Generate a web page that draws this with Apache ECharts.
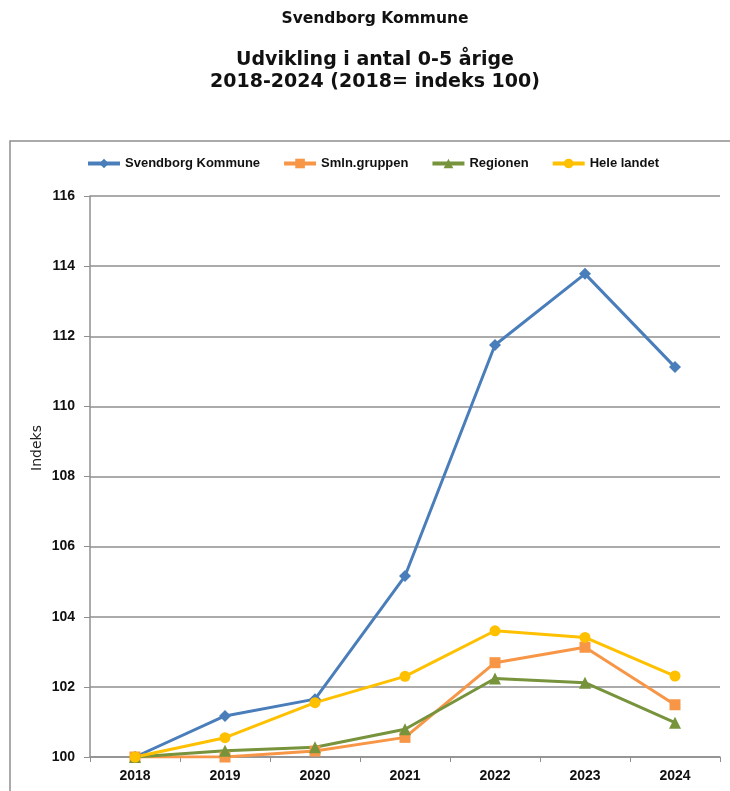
<!DOCTYPE html>
<html>
<head>
<meta charset="utf-8">
<script src="https://cdn.jsdelivr.net/npm/echarts@6/dist/echarts.min.js"></script>
<style>
  html, body { margin: 0; padding: 0; background: #fff; }
  #chart { width: 730px; height: 791px; }
</style>
</head>
<body>
<div id="chart"></div>
<script>
// data
var years = ['2018', '2019', '2020', '2021', '2022', '2023', '2024'];
var svendborg = [100, 101.17, 101.65, 105.16, 111.75, 113.78, 111.12];
var smlnGruppen = [100, 100.0, 100.17, 100.56, 102.69, 103.13, 101.49];
var regionen = [100, 100.18, 100.28, 100.79, 102.24, 102.12, 100.98];
var heleLandet = [100, 100.55, 101.55, 102.30, 103.60, 103.41, 102.31];
var yTicks = [100, 102, 104, 106, 108, 110, 112, 114, 116];

var FONT = '"DejaVu Sans", sans-serif';
var LABEL_FONT = '"Liberation Sans", Arial, sans-serif';

function line(name, data, color, symbol, size) {
  return {
    name: name,
    type: 'line',
    data: data,
    symbol: symbol,
    symbolSize: size,
    showAllSymbol: true,
    lineStyle: { color: color, width: 3 },
    itemStyle: { color: color, borderWidth: 0 },
    emphasis: { disabled: true },
    animation: false
  };
}

var chart = echarts.init(document.getElementById('chart'));
chart.setOption({
  backgroundColor: '#fff',
  animation: false,
  title: [
    {
      text: 'Svendborg Kommune',
      left: 370, top: 6, textAlign: 'center',
      textStyle: { fontFamily: FONT, fontSize: 15.5, fontWeight: 'bold', color: '#111' }
    },
    {
      text: 'Udvikling i antal 0-5 årige\n2018-2024 (2018= indeks 100)',
      left: 370, top: 44, textAlign: 'center',
      textStyle: { fontFamily: FONT, fontSize: 19, fontWeight: 'bold', color: '#111', lineHeight: 22 }
    }
  ],
  graphic: [
    {
      type: 'rect',
      shape: { x: 10, y: 141, width: 740, height: 680 },
      style: { fill: 'none', stroke: '#8f8f8f', lineWidth: 1.5 },
      silent: true, z: -1
    },
    {
      type: 'text',
      x: 37, y: 448,
      rotation: Math.PI / 2,
      style: {
        text: 'Indeks', fontFamily: FONT, fontSize: 14, fill: '#222',
        align: 'center', verticalAlign: 'middle'
      }
    }
  ],
  legend: {
    left: 81, top: 152,
    itemWidth: 32, itemHeight: 12, itemGap: 22,
    lineStyle: { width: 4 },
    textStyle: { fontFamily: LABEL_FONT, fontSize: 13, fontWeight: 'bold', color: '#111' },
    data: ['Svendborg Kommune', 'Smln.gruppen', 'Regionen', 'Hele landet']
  },
  grid: { left: 90, top: 196, width: 630, height: 561, containLabel: false },
  xAxis: {
    type: 'category',
    data: years,
    boundaryGap: true,
    axisLine: { lineStyle: { color: '#8f8f8f', width: 1.5 } },
    axisTick: { show: true, length: 5, lineStyle: { color: '#8f8f8f' } },
    axisLabel: { fontFamily: LABEL_FONT, fontSize: 14, fontWeight: 'bold', color: '#111', margin: 12 }
  },
  yAxis: {
    type: 'value',
    min: yTicks[0], max: yTicks[yTicks.length - 1], interval: 2,
    axisLine: { show: true, lineStyle: { color: '#8f8f8f', width: 1.5 } },
    axisTick: { show: true, length: 6, lineStyle: { color: '#8f8f8f' } },
    axisLabel: { fontFamily: LABEL_FONT, fontSize: 14, fontWeight: 'bold', color: '#111', margin: 15 },
    splitLine: { show: true, lineStyle: { color: '#8f8f8f', width: 1.5 } }
  },
  series: [
    line('Svendborg Kommune', svendborg, '#4A7EBB', 'diamond', 12),
    line('Smln.gruppen', smlnGruppen, '#F79646', 'rect', 11),
    line('Regionen', regionen, '#77933C', 'triangle', 12),
    line('Hele landet', heleLandet, '#FFC000', 'circle', 11)
  ]
});
</script>
</body>
</html>
